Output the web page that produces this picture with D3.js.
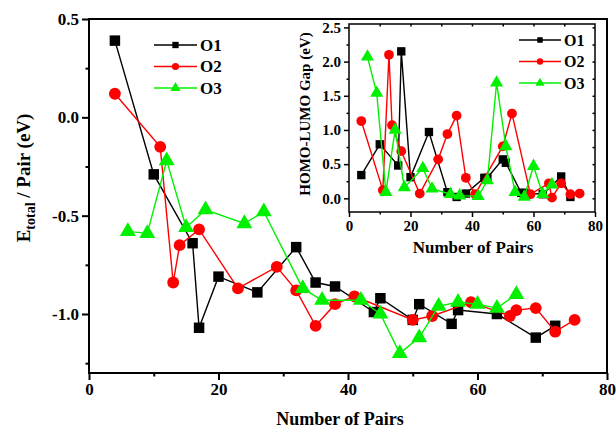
<!DOCTYPE html>
<html>
<head>
<meta charset="utf-8">
<script src="https://cdn.jsdelivr.net/npm/d3@7"></script>
<style>
  body { margin: 0; background: #fff; }
  text { font-family: "Liberation Serif", "Times New Roman", serif; font-weight: bold; }
</style>
</head>
<body>
<div id="chart"></div>
<script>
// main panel: total energy per pair
const o1X = [4, 10, 16, 17, 20, 26, 32, 35, 38, 44, 45, 50, 51, 56, 57, 63, 69, 72]
const o1E = [0.39, -0.29, -0.64, -1.07, -0.81, -0.89, -0.66, -0.84, -0.86, -0.99, -0.92, -1.03, -0.95, -1.05, -0.98, -1.0, -1.12, -1.06]
const o2X = [4, 11, 13, 14, 17, 23, 29, 32, 35, 38, 41, 50, 53, 59, 65, 66, 69, 72, 75]
const o2E = [0.12, -0.15, -0.84, -0.65, -0.57, -0.87, -0.76, -0.88, -1.06, -0.95, -0.91, -1.03, -1.01, -0.94, -1.01, -0.98, -0.97, -1.09, -1.03]
const o3X = [6, 9, 12, 15, 18, 24, 27, 33, 36, 42, 45, 48, 51, 54, 57, 60, 63, 66]
const o3E = [-0.58, -0.59, -0.22, -0.56, -0.47, -0.54, -0.48, -0.87, -0.93, -0.93, -1.0, -1.2, -1.12, -0.96, -0.94, -0.95, -0.97, -0.9]

// inset: HOMO-LUMO gap
const o1Gap = [0.34, 0.79, 0.48, 2.15, 0.31, 0.97, 0.09, 0.02, 0.07, 0.3, 0.3, 0.57, 0.52, 0.08, 0.08, 0.06, 0.32, 0.02]
const o2Gap = [1.13, 0.12, 2.1, 1.07, 0.69, 0.07, 0.57, 0.94, 1.21, 0.3, 0.06, 0.76, 1.24, 0.06, 0.22, 0.01, 0.22, 0.06, 0.07]
const o3Gap = [2.07, 1.54, 0.09, 1.0, 0.16, 0.44, 0.14, 0.06, 0.04, 0.03, 0.26, 1.69, 0.76, 0.09, 0.02, 0.47, 0.06, 0.2]

const seriesNames = ["O1", "O2", "O3"]
const mainYTicks = [0.5, 0.0, -0.5, -1.0]
const insetYTicks = [0.0, 0.5, 1.0, 1.5, 2.0, 2.5]
const xTicks = [0, 20, 40, 60, 80]

const colors = ["#000000", "#ff0000", "#00f000"]
const shapes = [d3.symbolSquare, d3.symbolCircle, d3.symbolTriangle]

const width = 616, height = 433
const svg = d3.select("#chart").append("svg")
    .attr("width", width)
    .attr("height", height)

// plain hyphen for negatives, like the original figure
const fmt1 = v => v.toFixed(1)

function zip(xs, ys) {
    return xs.map((x, i) => ({x: x, y: ys[i]}))
}

function drawPanel(opt) {
    const x = d3.scaleLinear().domain([0, 80]).range([opt.left, opt.right])
    const y = d3.scaleLinear().domain(opt.yDomain).range([opt.bottom, opt.top])
    const g = svg.append("g")

    g.append("rect")
        .attr("x", opt.left).attr("y", opt.top)
        .attr("width", opt.right - opt.left).attr("height", opt.bottom - opt.top)
        .attr("fill", "#fff")

    // bottom axis
    g.append("g")
        .attr("transform", "translate(0," + opt.bottom + ")")
        .call(d3.axisBottom(x).tickValues(xTicks).tickSize(opt.tick).tickPadding(3).tickFormat(d3.format("d")))
    g.append("g")
        .attr("transform", "translate(0," + opt.bottom + ")")
        .call(d3.axisBottom(x).tickValues([10, 30, 50, 70]).tickSize(opt.tick / 2).tickFormat(""))

    // left axis
    g.append("g")
        .attr("transform", "translate(" + opt.left + ",0)")
        .call(d3.axisLeft(y).tickValues(opt.yTicks).tickSize(opt.tick).tickPadding(3).tickFormat(fmt1))
    g.append("g")
        .attr("transform", "translate(" + opt.left + ",0)")
        .call(d3.axisLeft(y).tickValues(opt.yMinor).tickSize(opt.tick / 2).tickFormat(""))

    if (opt.mirror) {
        g.append("g")
            .attr("transform", "translate(0," + opt.top + ")")
            .call(d3.axisBottom(x).tickValues(d3.range(10, 80, 10)).tickSize(opt.tick / 2).tickFormat(""))
        g.append("g")
            .attr("transform", "translate(" + opt.right + ",0)")
            .call(d3.axisLeft(y).tickValues(opt.yTicks.concat(opt.yMinor)).tickSize(opt.tick / 2).tickFormat(""))
    }

    g.selectAll(".domain").remove()
    g.selectAll(".tick line").attr("stroke", "#000").attr("stroke-width", opt.frame)
    g.selectAll(".tick text")
        .attr("fill", "#000")
        .style("font-size", opt.tickFont + "px")
    g.append("rect")
        .attr("x", opt.left).attr("y", opt.top)
        .attr("width", opt.right - opt.left).attr("height", opt.bottom - opt.top)
        .attr("fill", "none")
        .attr("stroke", "#000")
        .attr("stroke-width", opt.frame)

    const line = d3.line().x(d => x(d.x)).y(d => y(d.y))
    opt.series.forEach((s, i) => {
        const pts = zip(s.xs, s.ys)
        g.append("path")
            .datum(pts)
            .attr("d", line)
            .attr("fill", "none")
            .attr("stroke", colors[i])
            .attr("stroke-width", 1.4)
        g.selectAll(".m" + i)
            .data(pts)
            .enter()
            .append("path")
            .attr("transform", d => "translate(" + x(d.x) + "," + y(d.y) + ")")
            .attr("d", d3.symbol().type(shapes[i]).size(opt.markSizes[i]))
            .attr("fill", colors[i])
    })

    // legend
    seriesNames.forEach((name, i) => {
        const ly = opt.legend.y + i * opt.legend.dy
        const lg = g.append("g")
        lg.append("line")
            .attr("x1", opt.legend.x).attr("x2", opt.legend.x + opt.legend.w)
            .attr("y1", ly).attr("y2", ly)
            .attr("stroke", colors[i]).attr("stroke-width", 1.4)
        lg.append("path")
            .attr("transform", "translate(" + (opt.legend.x + opt.legend.w / 2) + "," + ly + ")")
            .attr("d", d3.symbol().type(shapes[i]).size(opt.legendSizes[i]))
            .attr("fill", colors[i])
        lg.append("text")
            .attr("x", opt.legend.x + opt.legend.w + 3)
            .attr("y", ly)
            .attr("dy", "0.35em")
            .style("font-size", opt.legend.font + "px")
            .text(name)
    })
    return {x, y, g}
}

const main = drawPanel({
    left: 89, right: 607, top: 19, bottom: 373,
    yDomain: [-1.3, 0.5], yTicks: mainYTicks, yMinor: [0.25, -0.25, -0.75, -1.25],
    tick: 7, frame: 2, tickFont: 17, mirror: false,
    series: [{xs: o1X, ys: o1E}, {xs: o2X, ys: o2E}, {xs: o3X, ys: o3E}],
    markSizes: [110, 110, 110],
    legendSizes: [40, 40, 45],
    legend: {x: 154, y: 45, dy: 21.5, w: 43, font: 17}
})

svg.append("text")
    .attr("x", 340).attr("y", 425)
    .attr("text-anchor", "middle")
    .style("font-size", "18px")
    .text("Number of Pairs")

const yLab = svg.append("text")
    .attr("transform", "translate(30,178) rotate(-90)")
    .attr("text-anchor", "middle")
    .style("font-size", "19px")
yLab.append("tspan").text("E")
yLab.append("tspan").attr("dy", 5).style("font-size", "14px").text("total")
yLab.append("tspan").attr("dy", -5).text(" / Pair (eV)")

const inset = drawPanel({
    left: 349, right: 595, top: 24, bottom: 212,
    yDomain: [-0.2, 2.55], yTicks: insetYTicks, yMinor: [0.25, 0.75, 1.25, 1.75, 2.25],
    tick: 5, frame: 1.5, tickFont: 15, mirror: true,
    series: [{xs: o1X, ys: o1Gap}, {xs: o2X, ys: o2Gap}, {xs: o3X, ys: o3Gap}],
    markSizes: [70, 75, 75],
    legendSizes: [30, 32, 36],
    legend: {x: 519, y: 40, dy: 21.5, w: 42, font: 16}
})

svg.append("text")
    .attr("x", 473).attr("y", 253)
    .attr("text-anchor", "middle")
    .style("font-size", "17px")
    .text("Number of Pairs")

svg.append("text")
    .attr("transform", "translate(310,114) rotate(-90)")
    .attr("text-anchor", "middle")
    .style("font-size", "15px")
    .text("HOMO-LUMO Gap (eV)")
</script>
</body>
</html>
